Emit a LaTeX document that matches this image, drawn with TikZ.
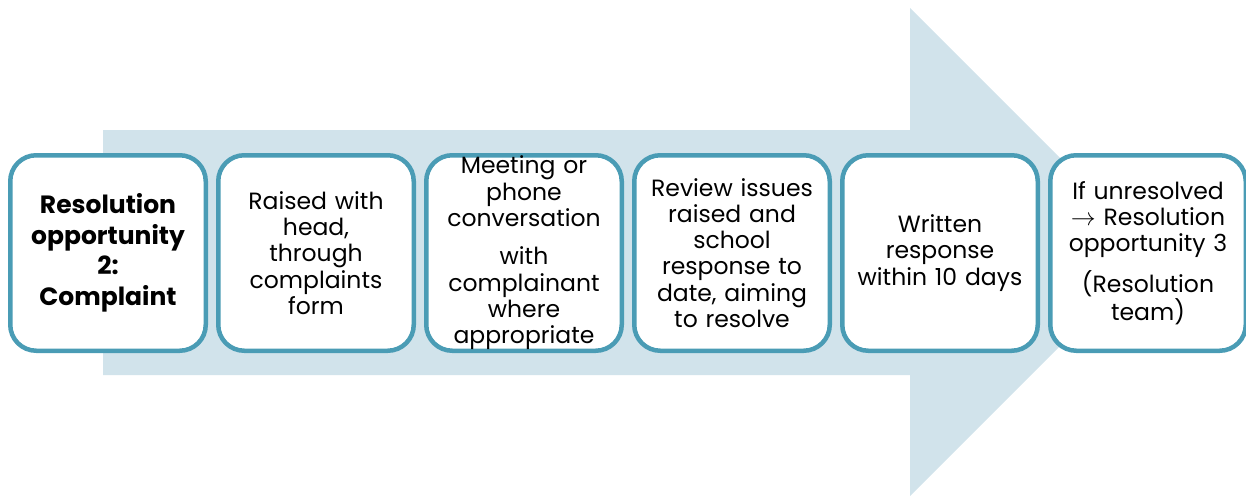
\documentclass[tikz,border=0pt]{standalone}
\usepackage{fontspec}
\setmainfont{Poppins}
\definecolor{stepline}{HTML}{4A9CB5}
\definecolor{arrowfill}{HTML}{D1E3EB}
\begin{document}
\begin{tikzpicture}[x=1pt,y=-1pt,
  stepbox/.style={draw=stepline, line width=4.5pt, fill=white,
    rounded corners=26pt, minimum width=195.5pt, minimum height=195.5pt,
    align=center, inner sep=0pt, text width=190pt,
    font=\fontsize{23.5}{26.3}\selectfont},
  firstbox/.style={stepbox, font=\bfseries\fontsize{25}{30.5}\selectfont}]
\useasboundingbox (0,0) rectangle (1246,495);
% background arrow
\fill[arrowfill] (103,130) -- (910,130) -- (910,8) -- (1154,252)
  -- (910,496) -- (910,375) -- (103,375) -- cycle;
% process steps
\node[firstbox] (s1) at (108,253) {Resolution\\opportunity\\2:\\Complaint};
\node[stepbox] (s2) at (316,253) {Raised with\\head,\\through\\complaints\\form};
\node[stepbox] (s3) at (524,253) {Meeting or\\phone\\conversation\\[12pt]with\\complainant\\where\\appropriate};
\node[stepbox] (s4) at (732,253) {Review issues\\raised and\\school\\response to\\date, aiming\\to resolve};
\node[stepbox] (s5) at (940,253) {Written\\response\\within 10 days};
\node[stepbox] (s6) at (1148,253) {If unresolved\\$\rightarrow$ Resolution\\opportunity 3\\[12pt](Resolution\\team)};
\end{tikzpicture}
\end{document}
